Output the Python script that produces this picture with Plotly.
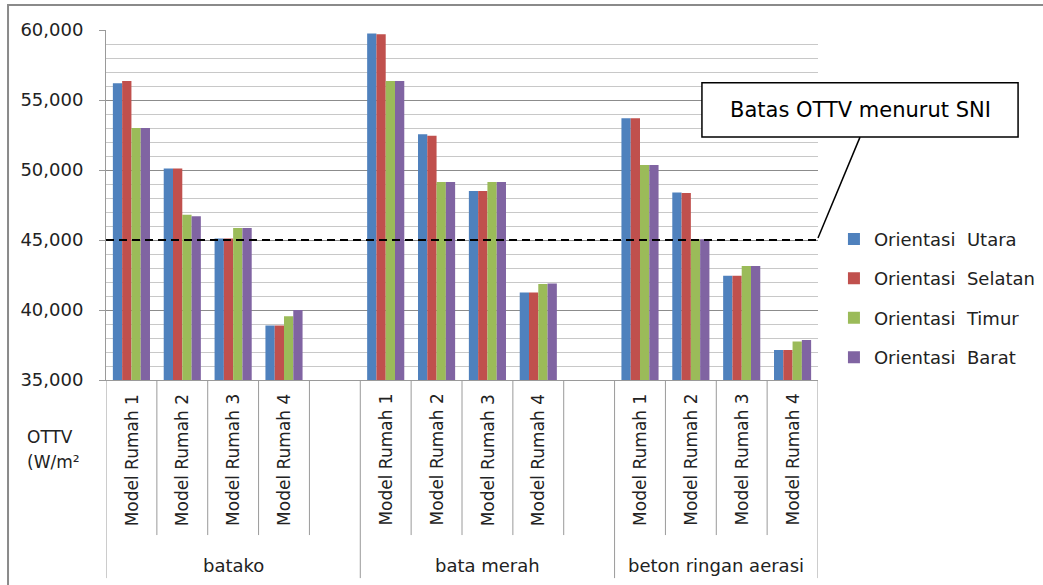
import plotly.graph_objects as go

groups = ["batako", "bata merah", "beton ringan aerasi"]
models = ["Model Rumah 1", "Model Rumah 2", "Model Rumah 3", "Model Rumah 4"]
series_names = ["Orientasi\u00a0 Utara", "Orientasi\u00a0 Selatan", "Orientasi\u00a0 Timur", "Orientasi\u00a0 Barat"]
colors = ["#4F81BD", "#C0504D", "#9BBB59", "#8064A2"]

# values[group] -> per model, per series
utara   = {"batako": [56200, 50100, 45100, 38900],
           "bata merah": [59750, 52550, 48500, 41250],
           "beton ringan aerasi": [53700, 48400, 42450, 37150]}
selatan = {"batako": [56350, 50100, 45100, 38900],
           "bata merah": [59700, 52450, 48500, 41250],
           "beton ringan aerasi": [53700, 48350, 42450, 37150]}
timur   = {"batako": [53000, 46800, 45850, 39550],
           "bata merah": [56350, 49150, 49150, 41850],
           "beton ringan aerasi": [50350, 45050, 43150, 37750]}
barat   = {"batako": [53000, 46700, 45850, 40000],
           "bata merah": [56350, 49150, 49150, 41900],
           "beton ringan aerasi": [50350, 45050, 43150, 37850]}
series_values = [utara, selatan, timur, barat]

sni_limit = 45000
y_ticks = [35000, 40000, 45000, 50000, 55000, 60000]
y_tick_text = ["35,000", "40,000", "45,000", "50,000", "55,000", "60,000"]

# slot layout: each group has its models followed by an empty slot (except last)
slots_per_group = [5, 5, 4]
group_start = [0, 5, 10]
n_slots = sum(slots_per_group)

FONT = "DejaVu Sans"
TXT = "#222222"

fig = go.Figure()
for s, (name, vals) in enumerate(zip(series_names, series_values)):
    xs, ys = [], []
    for g, grp in enumerate(groups):
        for i, v in enumerate(vals[grp]):
            xs.append(group_start[g] + i)
            ys.append(v)
    fig.add_trace(go.Bar(x=xs, y=ys, name=name, marker_color=colors[s],
                         marker_line_width=0, legendgroup=str(s)))

shapes = []
annotations = []

# model separators and labels
for g, grp in enumerate(groups):
    for k in range(slots_per_group[g]):
        xpos = group_start[g] + k
        if k < len(models):
            annotations.append(dict(x=xpos, y=-0.034, xref="x", yref="paper",
                                    text=models[k], textangle=-90, showarrow=False,
                                    xanchor="center", yanchor="top",
                                    font=dict(family=FONT, size=17, color=TXT)))
        # right boundary of slot
        if k < slots_per_group[g] - 1:
            shapes.append(dict(type="line", xref="x", yref="paper",
                               x0=xpos + 0.5, x1=xpos + 0.5, y0=0, y1=-0.443,
                               line=dict(color="#9a9a9a", width=1)))
    # group label
    gc = group_start[g] + (slots_per_group[g] - 1) / 2
    annotations.append(dict(x=gc, y=-0.53, xref="x", yref="paper", text=grp,
                            showarrow=False, xanchor="center", yanchor="middle",
                            font=dict(family=FONT, size=18, color=TXT)))
# group boundaries
bounds = [-0.5] + [group_start[g] + slots_per_group[g] - 0.5 for g in range(len(groups))]
for b in bounds:
    shapes.append(dict(type="line", xref="x", yref="paper", x0=b, x1=b, y0=0, y1=-0.566,
                       line=dict(color="#9a9a9a", width=1)))

# SNI dashed line
shapes.append(dict(type="line", xref="paper", yref="y", x0=0, x1=1, y0=sni_limit, y1=sni_limit,
                   line=dict(color="black", width=2, dash="8px,5px")))
# callout line + box
shapes.append(dict(type="line", xref="paper", yref="paper", x0=1.059, y0=0.694,
                   x1=1.0, y1=(380 - 238) / 350, line=dict(color="black", width=1.5)))
shapes.append(dict(type="rect", xref="paper", yref="paper", x0=0.837, x1=1.281,
                   y0=0.694, y1=0.849, fillcolor="white", line=dict(color="black", width=1.5)))
annotations.append(dict(x=(0.837 + 1.281) / 2, y=(0.694 + 0.849) / 2, xref="paper", yref="paper",
                        text="Batas OTTV menurut SNI", showarrow=False,
                        xanchor="center", yanchor="middle",
                        font=dict(family=FONT, size=21, color="black")))
# outer border
shapes.append(dict(type="rect", xref="paper", yref="paper", x0=-0.1376, x1=1.4,
                   y0=-0.7, y1=1.0714, line=dict(color="#8a8a8a", width=2)))

# axis title-like text
annotations.append(dict(x=(25 - 106) / 712, y=(380 - 437) / 350, xref="paper", yref="paper",
                        text="OTTV", showarrow=False, xanchor="left", yanchor="middle",
                        font=dict(family=FONT, size=17, color=TXT)))
annotations.append(dict(x=(25 - 106) / 712, y=(380 - 462) / 350, xref="paper", yref="paper",
                        text="(W/m²", showarrow=False, xanchor="left", yanchor="middle",
                        font=dict(family=FONT, size=17, color=TXT)))

fig.update_layout(
    width=1043, height=585,
    margin=dict(l=106, r=225, t=30, b=205, autoexpand=False),
    paper_bgcolor="white", plot_bgcolor="white",
    barmode="group", bargap=0.27, bargroupgap=0,
    showlegend=True,
    legend=dict(x=1.0224, y=0.455, xanchor="left", yanchor="top",
                font=dict(family=FONT, size=18, color=TXT),
                tracegroupgap=13, bgcolor="rgba(0,0,0,0)"),
    shapes=shapes, annotations=annotations,
    xaxis=dict(range=[-0.5, n_slots - 0.5], showticklabels=False, showgrid=False,
               zeroline=False, showline=True, linecolor="#9a9a9a", linewidth=1, ticks=""),
    yaxis=dict(range=[35000, 60000], tickvals=y_ticks, ticktext=y_tick_text,
               showgrid=True, gridcolor="#8c8c8c", gridwidth=1,
               minor=dict(dtick=1000, showgrid=True, gridcolor="#c8c8c8", gridwidth=1),
               zeroline=False, showline=True, linecolor="#9a9a9a", linewidth=1,
               ticks="outside", ticklen=6, tickcolor="#9a9a9a",
               ticklabelstandoff=12,
               tickfont=dict(family=FONT, size=18, color=TXT)),
)
fig.write_html("out.html")
